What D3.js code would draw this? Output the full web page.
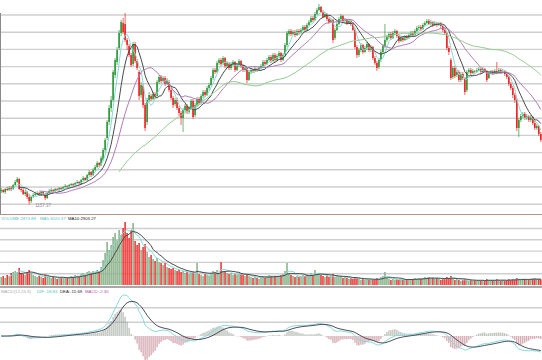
<!DOCTYPE html>
<html lang="en">
<head>
<meta charset="UTF-8">
<title>K-line with volume and MACD</title>
<script src="https://d3js.org/d3.v7.min.js"></script>
<style>
  body { margin: 0; background: #fff; }
  svg { display: block; }
</style>
</head>
<body>
<div id="chart-container"></div>
<script>
// daily bars: [open, high, low, close]
var candles = [
  [1225,1240,1215,1230],[1230,1235,1215,1220],[1220,1240,1210,1235],[1235,1245,1225,1230],[1230,1250,1225,1240],
  [1240,1250,1225,1235],[1235,1260,1230,1255],[1255,1280,1250,1270],[1270,1295,1265,1285],[1285,1290,1230,1235],
  [1235,1245,1220,1230],[1230,1240,1205,1210],[1210,1230,1200,1220],[1220,1225,1185,1195],[1195,1210,1157.37,1175],
  [1175,1200,1165,1195],[1195,1215,1190,1205],[1205,1220,1200,1210],[1210,1225,1205,1215],[1215,1220,1200,1205],
  [1205,1225,1200,1220],[1220,1225,1205,1210],[1210,1215,1180,1190],[1190,1220,1185,1215],[1215,1235,1210,1225],
  [1225,1240,1220,1230],[1230,1235,1215,1225],[1225,1240,1220,1235],[1235,1240,1225,1230],[1230,1245,1225,1240],
  [1240,1245,1230,1235],[1235,1250,1230,1245],[1245,1260,1240,1250],[1250,1255,1240,1245],[1245,1260,1240,1255],
  [1255,1265,1250,1260],[1260,1265,1250,1255],[1255,1270,1250,1265],[1265,1280,1260,1270],[1270,1275,1255,1260],
  [1260,1285,1255,1280],[1280,1300,1275,1290],[1290,1295,1275,1280],[1280,1310,1275,1305],[1305,1330,1300,1320],
  [1320,1325,1295,1305],[1305,1340,1300,1330],[1330,1355,1325,1345],[1345,1375,1340,1365],[1365,1370,1345,1355],
  [1355,1400,1350,1390],[1380,1440,1375,1430],[1430,1490,1420,1480],[1490,1580,1480,1570],[1570,1655,1555,1640],
  [1640,1700,1620,1680],[1680,1830,1670,1820],[1805,1890,1790,1880],[1870,1945,1855,1930],[1940,2030,1930,2015],
  [2015,2080,2000,2070],[2065,2090,2010,2020],[2060,2115,1970,1980],[1980,1990,1930,1955],[1950,1960,1895,1905],
  [1905,1915,1845,1855],[1860,1970,1850,1960],[1960,1970,1865,1875],[1875,1885,1830,1840],[1820,1830,1680,1700],
  [1705,1770,1690,1755],[1750,1760,1640,1655],[1655,1665,1525,1540],[1570,1690,1555,1680],[1680,1720,1670,1705],
  [1700,1710,1675,1685],[1685,1720,1680,1710],[1710,1720,1685,1695],[1700,1780,1695,1770],[1770,1805,1760,1795],
  [1795,1805,1765,1775],[1775,1800,1770,1790],[1790,1800,1750,1760],[1760,1790,1755,1780],[1770,1780,1720,1730],
  [1730,1740,1680,1690],[1690,1700,1640,1655],[1660,1690,1650,1680],[1680,1690,1630,1640],[1640,1650,1600,1615],
  [1615,1625,1555,1590],[1590,1640,1520,1630],[1630,1660,1620,1650],[1650,1660,1610,1620],[1620,1650,1610,1640],
  [1640,1685,1630,1675],[1675,1685,1585,1595],[1605,1665,1595,1655],[1655,1695,1645,1685],[1685,1695,1655,1665],
  [1665,1710,1660,1700],[1700,1730,1690,1720],[1720,1730,1695,1705],[1705,1750,1700,1740],[1740,1765,1730,1755],
  [1755,1800,1750,1790],[1790,1840,1780,1830],[1830,1840,1810,1820],[1820,1875,1815,1865],[1865,1890,1855,1880],
  [1880,1890,1850,1860],[1865,1900,1855,1890],[1890,1895,1840,1850],[1850,1875,1840,1865],[1865,1870,1830,1840],
  [1840,1870,1830,1860],[1860,1880,1850,1870],[1870,1875,1820,1830],[1830,1865,1825,1855],[1855,1885,1845,1875],
  [1875,1880,1840,1850],[1850,1860,1820,1830],[1830,1850,1820,1840],[1840,1845,1765,1780],[1780,1830,1775,1820],
  [1820,1840,1810,1830],[1830,1835,1815,1825],[1825,1845,1820,1835],[1835,1840,1820,1830],[1830,1850,1825,1840],
  [1840,1860,1835,1850],[1850,1880,1845,1870],[1870,1880,1850,1860],[1860,1890,1855,1880],[1880,1905,1875,1895],
  [1895,1905,1865,1875],[1875,1915,1870,1905],[1905,1915,1870,1880],[1880,1910,1875,1900],[1900,1925,1890,1915],
  [1915,1920,1870,1880],[1880,1915,1875,1905],[1905,1965,1895,1955],[1955,2025,1945,2015],[2010,2035,2000,2025],
  [2025,2035,2000,2010],[2010,2030,2005,2020],[2020,2030,1995,2005],[2005,2035,2000,2025],[2025,2035,2005,2015],
  [2015,2040,2010,2030],[2030,2055,2025,2045],[2045,2055,2020,2030],[2030,2065,2025,2055],[2055,2080,2050,2070],
  [2070,2100,2065,2090],[2090,2100,2070,2080],[2080,2120,2075,2110],[2110,2140,2105,2130],[2130,2160,2125,2145],
  [2145,2150,2115,2120],[2120,2130,2090,2095],[2095,2120,2090,2110],[2110,2115,2075,2085],[2085,2095,2060,2070],
  [2070,2090,2065,2080],[2080,2085,1965,1980],[1990,2040,1980,2030],[2030,2070,2025,2060],[2060,2095,2055,2085],
  [2085,2110,2080,2100],[2100,2105,2065,2075],[2075,2090,2065,2080],[2080,2085,2055,2065],[2065,2085,2060,2075],
  [2075,2080,2050,2060],[2060,2070,2025,2030],[2030,2040,1935,1945],[1945,1955,1890,1905],[1905,1940,1895,1930],
  [1930,1965,1920,1955],[1955,1960,1910,1920],[1920,1950,1915,1940],[1940,1970,1930,1960],[1960,1965,1920,1930],
  [1930,1955,1920,1945],[1945,1950,1880,1890],[1890,1900,1855,1865],[1865,1875,1825,1840],[1845,1890,1835,1880],
  [1880,1930,1870,1920],[1920,1960,1910,1950],[1950,2060,1940,1980],[1980,2005,1970,1995],[1995,2020,1985,2010],
  [2010,2020,1980,1990],[1990,2025,1985,2015],[2015,2035,2005,2025],[2025,2030,1990,2000],[2000,2010,1965,1975],
  [1975,2000,1970,1990],[1990,2000,1970,1980],[1980,2005,1975,1995],[1995,2005,1980,1990],[1990,2015,1985,2005],
  [2005,2025,2000,2015],[2015,2025,1995,2005],[2005,2035,2000,2025],[2025,2050,2020,2040],[2040,2055,2030,2045],
  [2045,2055,2025,2035],[2035,2065,2030,2055],[2055,2075,2050,2065],[2065,2085,2060,2075],[2075,2085,2055,2060],
  [2060,2080,2050,2070],[2070,2075,2045,2055],[2055,2075,2050,2065],[2065,2070,2045,2055],[2055,2070,2050,2060],
  [2060,2070,2040,2050],[2050,2055,2020,2030],[2030,2040,2005,2015],[2015,2020,1930,1940],[1940,1950,1905,1920],
  [1880,1890,1780,1790],[1795,1850,1785,1840],[1840,1850,1790,1800],[1805,1830,1795,1820],[1820,1830,1770,1780],
  [1780,1820,1770,1810],[1810,1820,1780,1790],[1790,1795,1705,1720],[1730,1830,1720,1820],[1820,1840,1810,1830],
  [1830,1840,1805,1815],[1815,1835,1810,1825],[1825,1830,1810,1820],[1820,1840,1815,1830],[1830,1845,1825,1835],
  [1835,1840,1810,1820],[1820,1845,1815,1835],[1835,1840,1815,1825],[1825,1830,1770,1780],[1790,1825,1785,1815],
  [1815,1830,1810,1820],[1820,1830,1805,1815],[1815,1835,1810,1825],[1825,1870,1810,1820],[1820,1840,1815,1830],
  [1830,1840,1810,1820],[1820,1835,1815,1825],[1825,1830,1800,1810],[1810,1820,1785,1795],[1795,1805,1750,1760],
  [1760,1770,1730,1740],[1740,1750,1690,1705],[1705,1715,1665,1680],[1680,1690,1525,1540],[1540,1590,1495,1580],
  [1580,1610,1570,1600],[1600,1620,1590,1610],[1610,1620,1580,1590],[1590,1610,1580,1600],[1600,1605,1570,1580],
  [1580,1605,1570,1595],[1595,1600,1555,1565],[1565,1575,1530,1540],[1540,1560,1530,1550],[1550,1555,1500,1510],
  [1510,1520,1470,1480]
];

var volumes = [
  4000,4500,3500,5000,4500,6000,6500,7000,6500,8500,
  6000,5500,5000,6500,7500,6000,5000,4500,4000,4500,
  4000,3500,5000,4500,4000,3500,4000,3500,3000,3500,
  4000,3500,4000,3500,4000,4500,4000,5000,4500,4000,
  5500,6000,5000,6500,7000,6000,7000,6500,7500,6500,
  9000,12500,16000,21500,17500,20000,24000,26000,22500,27500,
  25000,28500,31500,26000,23500,27500,31000,22000,20000,21000,
  17500,19000,20500,16500,14000,15000,13000,12000,13500,11500,
  11000,10000,11000,9000,8500,8000,8500,7500,7000,7500,
  6500,7000,6000,6500,5500,6000,6500,5500,11000,5500,
  5000,4500,5500,5000,4500,6000,7000,6500,7500,6000,
  11500,7000,6500,6000,5500,6000,5000,5500,5000,6000,
  5500,5000,4500,5500,4500,4000,3500,4000,3500,3000,
  4000,4500,4000,4500,5000,4500,4000,4500,4000,4500,
  5000,5500,7000,11000,6000,5000,4500,4000,4500,4000,
  4500,5000,4500,5500,5000,6000,4500,7500,5500,6000,
  5000,4500,4000,4500,4000,4500,5500,4000,4500,4000,
  4500,3500,4000,3500,3000,3500,3000,4000,3500,3000,
  2500,3000,2500,3000,2500,3000,2500,3000,3500,3000,
  4000,4500,6500,3500,3000,2500,3000,2500,3000,2500,
  3000,2500,3000,2500,3000,2500,3000,3500,3000,3500,
  3000,3500,4000,3500,4000,3000,3500,3000,3500,3000,
  2500,3000,3500,4000,3500,4500,3000,2500,3000,2500,
  2000,2500,3000,2500,2000,2500,2000,2500,2000,2500,
  2000,2500,2000,3000,2500,2000,2500,2000,3000,2500,
  2000,2500,2000,2500,3000,2500,3000,2500,3500,3000,
  2500,
  2650,2900,2500,2780,3100.85,3150,3300,2900,2877.96,2873.89
];

var maPeriods = [5, 10, 20, 60];
var maColors = ["#86dada", "#4b4b4b", "#b07cb8", "#94cc94"];
var volMaPeriods = [5, 10];
var volMaColors = ["#86dada", "#4b4b4b"];

var volumeLabels = [
  { text: "VOLUME 2873.89", x: 1, color: "#4fc3c3" },
  { text: "MA5:3020.37", x: 40, color: "#4fc3c3" },
  { text: "MA10:2903.27", x: 68, color: "#222" }
];
var macdLabels = [
  { text: "MACD(12,26,9)", x: 1, color: "#aaa" },
  { text: "DIF:-18.84", x: 37, color: "#4fc3c3" },
  { text: "DEA:-15.69", x: 60, color: "#222" },
  { text: "MACD:-2.30", x: 85, color: "#b050b0" }
];

var upColor = "#2f9a3a", downColor = "#ee2424";
var volUp = "#8db48d", volDown = "#f03b3b";

var width = 542, height = 360;
var svg = d3.select("#chart-container")
  .append("svg")
  .attr("width", width)
  .attr("height", height);

var n = candles.length;
var x = d3.scaleBand().domain(d3.range(n)).range([0, width]).padding(0.2);
var cx = function(i) { return x(i) + x.bandwidth() / 2; };

// panels
var y = d3.scaleLinear().domain([1110, 2180]).range([214, 0]);
var yVol = d3.scaleLinear().domain([0, 32000]).range([285, 221]);

function sma(arr, p) {
  return arr.map(function(d, i) {
    return i < p - 1 ? null : d3.mean(arr.slice(i - p + 1, i + 1));
  });
}
function ema(arr, p) {
  var k = 2 / (p + 1), prev, out = [];
  arr.forEach(function(v, i) {
    prev = i === 0 ? v : prev + k * (v - prev);
    out.push(prev);
  });
  return out;
}

var closes = candles.map(d => d[3]);

// grid lines
var grid = svg.append("g").attr("stroke", "#cfcfcf").attr("stroke-width", 1.4);
d3.range(1159, 2180, 86).forEach(function(v) {
  grid.append("line").attr("x1", 0).attr("x2", width).attr("y1", y(v)).attr("y2", y(v));
});
d3.range(5650, 32000, 5650).forEach(function(v) {
  grid.append("line").attr("x1", 0).attr("x2", width).attr("y1", yVol(v)).attr("y2", yVol(v));
});
[307.7, 322.3].forEach(function(gy) {
  grid.append("line").attr("x1", 0).attr("x2", width).attr("y1", gy).attr("y2", gy);
});

// borders
svg.append("line").attr("x1", 0.5).attr("x2", 0.5).attr("y1", 13).attr("y2", 214)
  .attr("stroke", "#8a8a8a").attr("stroke-width", 1);
svg.append("line").attr("x1", 0).attr("x2", width).attr("y1", 214.5).attr("y2", 214.5)
  .attr("stroke", "#b0948c").attr("stroke-width", 1);
svg.append("rect").attr("x", 0).attr("y", 286).attr("width", width).attr("height", 2)
  .attr("fill", "#a8a8a8");

// candles
var cg = svg.append("g");
candles.forEach(function(d, i) {
  var up = d[3] >= d[0];
  var col = up ? upColor : downColor;
  cg.append("line")
    .attr("x1", cx(i)).attr("x2", cx(i))
    .attr("y1", y(d[1])).attr("y2", y(d[2]))
    .attr("stroke", col).attr("stroke-width", 0.7);
  var top = y(Math.max(d[0], d[3])), bot = y(Math.min(d[0], d[3]));
  cg.append("rect")
    .attr("x", x(i)).attr("width", x.bandwidth())
    .attr("y", top).attr("height", Math.max(0.8, bot - top))
    .attr("fill", col);
});

// price moving averages
maPeriods.forEach(function(p, k) {
  var ma = sma(closes, p);
  var line = d3.line()
    .defined(d => d != null)
    .x((d, i) => cx(i))
    .y(d => y(d));
  svg.append("path")
    .datum(ma)
    .attr("fill", "none")
    .attr("stroke", maColors[k])
    .attr("stroke-width", 1)
    .attr("d", line);
});

// low marker
var lowIdx = d3.minIndex(candles, d => d[2]);
svg.append("text")
  .attr("x", cx(lowIdx) + 1.5)
  .attr("y", y(candles[lowIdx][2]) + 2)
  .attr("font-family", "Liberation Sans, Arial, sans-serif")
  .attr("font-size", 4.5)
  .attr("fill", "#8a8a8a")
  .text("\u2190" + candles[lowIdx][2].toFixed(2));

// volume bars
var vg = svg.append("g");
volumes.forEach(function(v, i) {
  var up = candles[i][3] >= candles[i][0];
  vg.append("rect")
    .attr("x", x(i)).attr("width", x.bandwidth())
    .attr("y", yVol(v)).attr("height", yVol(0) - yVol(v))
    .attr("fill", up ? volUp : volDown);
});
volMaPeriods.forEach(function(p, k) {
  var ma = sma(volumes, p);
  svg.append("path")
    .datum(ma)
    .attr("fill", "none")
    .attr("stroke", volMaColors[k])
    .attr("stroke-width", 1)
    .attr("d", d3.line().defined(d => d != null).x((d, i) => cx(i)).y(d => yVol(d)));
});

// MACD
var dif = d3.zip(ema(closes, 12), ema(closes, 26)).map(d => d[0] - d[1]);
var dea = ema(dif, 9);
var hist = dif.map((d, i) => 2 * (d - dea[i]));
var yMacd = d3.scaleLinear().domain([0, d3.max(dif)]).range([336, 295]);

svg.append("clipPath").attr("id", "macdClip")
  .append("rect").attr("x", 0).attr("y", 289).attr("width", width).attr("height", 71);
var mg = svg.append("g").attr("clip-path", "url(#macdClip)");
hist.forEach(function(h, i) {
  mg.append("line")
    .attr("x1", cx(i)).attr("x2", cx(i))
    .attr("y1", yMacd(0)).attr("y2", yMacd(h))
    .attr("stroke", h >= 0 ? "#8a968a" : "#b8707c")
    .attr("stroke-width", 0.8);
});
mg.append("path").datum(dif)
  .attr("fill", "none").attr("stroke", "#86dada").attr("stroke-width", 1)
  .attr("d", d3.line().x((d, i) => cx(i)).y(d => yMacd(d)));
mg.append("path").datum(dea)
  .attr("fill", "none").attr("stroke", "#4a4e5c").attr("stroke-width", 1)
  .attr("d", d3.line().x((d, i) => cx(i)).y(d => yMacd(d)));

// panel labels
function drawLabels(items, baseY) {
  var t = svg.append("text")
    .attr("y", baseY)
    .attr("font-family", "Liberation Sans, Arial, sans-serif")
    .attr("font-size", 4.3);
  items.forEach(function(it) {
    t.append("tspan").attr("x", it.x).attr("fill", it.color).text(it.text);
  });
}
drawLabels(volumeLabels, 219.5);
drawLabels(macdLabels, 292.5);
</script>
</body>
</html>
